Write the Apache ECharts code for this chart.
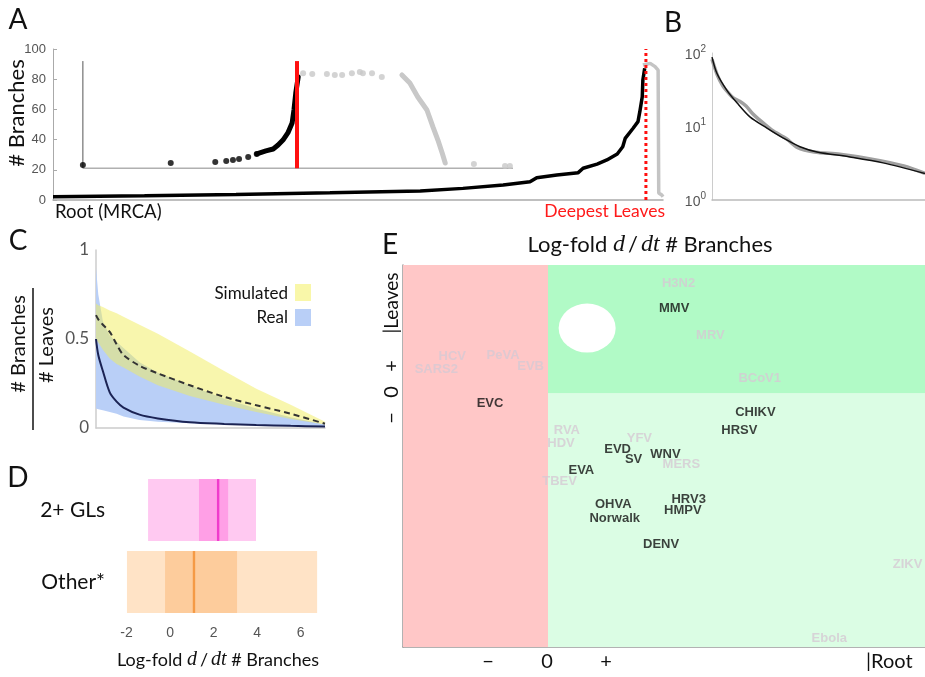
<!DOCTYPE html>
<html><head><meta charset="utf-8">
<script src="https://cdn.jsdelivr.net/npm/echarts@6/dist/echarts.min.js"></script>
<style>html,body{margin:0;padding:0;background:#fff}#c{width:925px;height:677px}</style>
</head><body><div id="c"></div>
<script>
// ---------- Panel A data (x: position root->leaves 0..100, y: # branches) ----------
const aMainX = [0, 15, 30, 45.4, 60.2, 67.2, 73.8, 78.2, 79.3, 82.6, 86.1, 86.9, 89.2, 90.8, 92.5, 93.4, 93.8, 95.1, 95.9, 96.2, 96.6, 96.7, 97.0];
const aMainY = [2.2, 2.8, 3.6, 4.8, 6, 7.7, 9.9, 12.1, 14.8, 16.6, 18.1, 21, 23.8, 26.5, 30.5, 35.3, 40.8, 47.5, 51.9, 58.5, 68.4, 79.5, 87.2];
const aTailX = [96.7, 97.9, 98.7, 99.2, 99.3, 99.8, 100];
const aTailY = [89.4, 90.5, 88.3, 86, 4.6, 3.3, 2.2];
const aInsetDotX = [4.9, 19.3, 26.6, 28.4, 29.5, 30.5, 32, 33.4];
const aInsetDotY = [23.2, 24.5, 25.2, 25.8, 26.5, 27.2, 28.5, 30.5];
const aInsetCurveX = [33.4, 34.9, 36.1, 36.9, 37.7, 38.5, 39.2, 39.5, 39.8, 40.2];
const aInsetCurveY = [30.5, 32.5, 33.8, 36.4, 39.7, 44.4, 51, 59.6, 70.9, 81.5];
const aGrayDotX = [41, 42.5, 44.9, 46.2, 47.4, 49, 50.3, 50.8, 52.3, 53.9, 69, 74.1, 74.9];
const aGrayDotY = [84, 83.4, 83.4, 82.8, 82.8, 84, 84.8, 84, 84, 81.5, 23.8, 22.5, 22.5];
const aGrayCurveX = [57.2, 58.5, 59.8, 61.3, 62.3, 63.1, 63.8, 64.3];
const aGrayCurveY = [82.8, 77.5, 68.2, 59.6, 48.3, 39.7, 31.1, 24.5];
const aRedSolid = {x: 40.0, y: [21, 92]};
const aRedDotted = {x: 97.2, y: [0, 100]};
const aInsetAxis = {x0: 4.9, x1: 75.4, y0: 21, y1: 92};

// ---------- Panel B data (log scale) ----------
const bBlackX = [0, 2.3, 7, 11.7, 17.8, 25.8, 33.3, 41.3, 49.3, 64.8, 80.3, 100];
const bBlackY = [88, 53, 31, 21, 13.5, 9.5, 7, 5.3, 4.5, 3.85, 3.2, 2.3];
const bGrayX = [0, 2.5, 5, 8, 10, 13, 16, 19, 22, 28, 35, 40, 48, 60, 75, 90, 100];
const bGrayY = [82, 50, 36, 28, 24.5, 22, 19, 15, 12.5, 9, 6.8, 5.2, 4.5, 4.2, 3.6, 2.9, 2.3];

// ---------- Panel C data ----------
const cX        = [0, 0.01, 0.03, 0.06, 0.09, 0.12, 0.19, 0.27, 0.41, 0.56, 0.70, 0.85, 1.0];
const cSimUpper = [0.70, 0.69, 0.68, 0.66, 0.645, 0.625, 0.58, 0.53, 0.43, 0.32, 0.22, 0.13, 0.035];
const cSimLower = [0.50, 0.48, 0.44, 0.39, 0.36, 0.34, 0.29, 0.24, 0.18, 0.13, 0.09, 0.05, 0.02];
const cSimMean  = [0.634, 0.61, 0.58, 0.54, 0.47, 0.41, 0.35, 0.307, 0.24, 0.175, 0.128, 0.08, 0.024];
const cRealUpper= [0.90, 0.75, 0.60, 0.52, 0.485, 0.45, 0.37, 0.31, 0.24, 0.165, 0.11, 0.06, 0.02];
const cRealLower= [0.11, 0.105, 0.10, 0.09, 0.08, 0.064, 0.045, 0.035, 0.026, 0.02, 0.015, 0.01, 0.008];
const cRealMean = [0.50, 0.41, 0.32, 0.20, 0.148, 0.115, 0.075, 0.054, 0.032, 0.023, 0.017, 0.012, 0.008];

// ---------- Panel D data ----------
const dCats = ['2+ GLs', 'Other*'];
const dOuterLo = [-1.01, -1.98];
const dOuterHi = [3.95, 6.76];
const dInnerLo = [1.33, -0.23];
const dInnerHi = [2.67, 3.08];
const dMedian  = [2.21, 1.10];
const dTicks = [-2, 0, 2, 4, 6];

// ---------- Panel E data ----------
const eBlackNames = ['MMV','EVC','CHIKV','HRSV','EVD','SV','WNV','EVA','OHVA','Norwalk','HRV3','HMPV','DENV'];
const eBlackX = [0.87, -0.40, 1.43, 1.32, 0.48, 0.59, 0.81, 0.23, 0.45, 0.46, 0.97, 0.93, 0.78];
const eBlackY = [0.66, -0.08, -0.15, -0.29, -0.43, -0.51, -0.47, -0.60, -0.86, -0.97, -0.82, -0.91, -1.17];
const eGrayNames = ['H3N2','MRV','BCoV1','HCV','PeVA','SARS2','EVB','RVA','HDV','YFV','MERS','TBEV','ZIKV','Ebola'];
const eGrayX = [0.90, 1.12, 1.46, -0.66, -0.31, -0.77, -0.12, 0.13, 0.09, 0.63, 0.92, 0.08, 2.48, 1.94];
const eGrayY = [0.86, 0.45, 0.12, 0.29, 0.30, 0.19, 0.21, -0.29, -0.39, -0.35, -0.55, -0.68, -1.33, -1.90];
const eHole = [0.27, 0.51];
const eXRange = [-1, 2.6], eYRange = [-1.97, 1];

// ---------- helpers ----------
const zip = (xs, ys) => xs.map((x, i) => [x, ys[i]]);
const FONT = 'Lato';
function T(text, x, y, size, o) {
  o = o || {};
  return {type: 'text', x: x, y: y, rotation: o.rot || 0, z: 100,
    style: {text: text, fontSize: size, fontFamily: o.family || FONT, fontWeight: o.weight || 'normal',
      fill: o.color || '#111', align: o.align || 'center', verticalAlign: 'middle',
      textAlign: o.align || 'center', textVerticalAlign: 'middle', rich: o.rich}};
}
const hidden = {axisLabel: {show: false}, axisTick: {show: false}, splitLine: {show: false}};

function bandSeries(lo, hi, fill) {
  return {type: 'custom', xAxisIndex: 2, yAxisIndex: 2, z: 2, encode: {x: 0, y: [1, 2]},
    data: cX.map((x, i) => [x, lo[i], hi[i]]),
    renderItem: (p, api) => {
      if (p.dataIndex !== 0) return null;
      const pts = [];
      for (let i = 0; i < cX.length; i++) pts.push(api.coord([cX[i], hi[i]]));
      for (let i = cX.length - 1; i >= 0; i--) pts.push(api.coord([cX[i], lo[i]]));
      return {type: 'polygon', shape: {points: pts}, style: {fill: fill}};
    }};
}

const chart = echarts.init(document.getElementById('c'), null, {renderer: 'canvas'});

function mathRich(n, i) {
  return {
    n: {fontFamily: FONT, fontSize: n, color: '#111'},
    s: {fontFamily: FONT, fontSize: n, color: '#111', padding: [0, 3, 0, 3]},
    i: {fontFamily: 'Liberation Serif', fontStyle: 'italic', fontSize: i, color: '#111'}
  };
}
const mathTitle = '{n|Log-fold }{i|d}{s|/}{i|dt}{n| # Branches}';

const option = {
  animation: false,
  grid: [
    {left: 53, top: 49, width: 610, height: 151},
    {left: 712, top: 53, width: 213, height: 147},
    {left: 96, top: 250, width: 229, height: 178},
    {left: 110, top: 474, width: 218, height: 144},
    {left: 403, top: 265, width: 522, height: 382}
  ],
  xAxis: [
    Object.assign({type: 'value', gridIndex: 0, min: 0, max: 100,
      axisLine: {lineStyle: {color: '#aaa', width: 1.5}}}, hidden),
    Object.assign({type: 'value', gridIndex: 1, min: 0, max: 100,
      axisLine: {lineStyle: {color: '#bbb', width: 1.5}}}, hidden),
    Object.assign({type: 'value', gridIndex: 2, min: 0, max: 1,
      axisLine: {lineStyle: {color: '#ccc', width: 1.5}}}, hidden),
    {type: 'value', gridIndex: 3, min: -2.76, max: 7.26,
      axisLine: {lineStyle: {color: '#aaa', width: 1.5}},
      axisTick: {show: false}, splitLine: {show: false},
      axisLabel: {customValues: dTicks, fontSize: 14, color: '#555', fontFamily: 'Liberation Sans', margin: 8}},
    Object.assign({type: 'value', gridIndex: 4, min: eXRange[0], max: eXRange[1],
      axisLine: {onZero: false, lineStyle: {color: '#999', width: 1.5}}}, hidden)
  ],
  yAxis: [
    {type: 'value', gridIndex: 0, min: 0, max: 100, interval: 20,
      axisLine: {show: true, lineStyle: {color: '#aaa', width: 1}},
      axisTick: {show: true, inside: true, length: 4, lineStyle: {color: '#aaa'}},
      splitLine: {show: false},
      axisLabel: {fontSize: 13, color: '#555', fontFamily: 'Liberation Sans', margin: 7}},
    {type: 'log', gridIndex: 1, min: 1, max: 100, logBase: 10,
      axisLine: {show: true, lineStyle: {color: '#ccc', width: 1}},
      axisTick: {show: false}, splitLine: {show: false},
      axisLabel: {margin: 6, formatter: v => '{b|10}{s|' + Math.round(Math.log10(v)) + '}',
        rich: {b: {fontSize: 14, color: '#555', fontFamily: 'Liberation Sans', lineHeight: 18, verticalAlign: 'bottom'},
               s: {fontSize: 10, color: '#555', fontFamily: 'Liberation Sans', lineHeight: 18, verticalAlign: 'top'}}}},
    {type: 'value', gridIndex: 2, min: 0, max: 1, interval: 0.5,
      axisLine: {show: true, lineStyle: {color: '#ccc', width: 1.5}},
      axisTick: {show: false}, splitLine: {show: false},
      axisLabel: {fontSize: 17, color: '#555', fontFamily: FONT, margin: 7}},
    {type: 'category', gridIndex: 3, data: dCats, inverse: true,
      axisLine: {show: false}, axisTick: {show: false},
      axisLabel: {fontSize: 21, color: '#111', fontFamily: FONT, margin: 5}},
    Object.assign({type: 'value', gridIndex: 4, min: eYRange[0], max: eYRange[1],
      axisLine: {show: true, onZero: false, lineStyle: {color: '#999', width: 1.5}}}, hidden)
  ],
  series: [
    // ----- Panel A -----
    {type: 'line', xAxisIndex: 0, yAxisIndex: 0, symbol: 'none', z: 2,
      data: [[aInsetAxis.x0, aInsetAxis.y0], [aInsetAxis.x1, aInsetAxis.y0]],
      lineStyle: {color: '#b0b0b0', width: 1.5}},
    {type: 'line', xAxisIndex: 0, yAxisIndex: 0, symbol: 'none', z: 2,
      data: [[aInsetAxis.x0, aInsetAxis.y0], [aInsetAxis.x0, aInsetAxis.y1]],
      lineStyle: {color: '#555', width: 1}},
    {type: 'scatter', xAxisIndex: 0, yAxisIndex: 0, symbolSize: 6, z: 3,
      data: zip(aGrayDotX, aGrayDotY), itemStyle: {color: '#c8c8c8'}},
    {type: 'line', xAxisIndex: 0, yAxisIndex: 0, symbol: 'none', z: 3,
      data: zip(aGrayCurveX, aGrayCurveY), lineStyle: {color: '#c8c8c8', width: 5, cap: 'round'}},
    {type: 'line', xAxisIndex: 0, yAxisIndex: 0, symbol: 'none', z: 3,
      data: zip(aTailX, aTailY), lineStyle: {color: '#c4c4c4', width: 3.5}},
    {type: 'scatter', xAxisIndex: 0, yAxisIndex: 0, symbolSize: 6, z: 4,
      data: zip(aInsetDotX, aInsetDotY), itemStyle: {color: '#000'}},
    {type: 'line', xAxisIndex: 0, yAxisIndex: 0, symbol: 'none', z: 4,
      data: zip(aInsetCurveX, aInsetCurveY), lineStyle: {color: '#000', width: 5, cap: 'round'}},
    {type: 'line', xAxisIndex: 0, yAxisIndex: 0, symbol: 'none', z: 4,
      data: zip(aMainX, aMainY), lineStyle: {color: '#000', width: 3.5}},
    {type: 'line', xAxisIndex: 0, yAxisIndex: 0, symbol: 'none', z: 5,
      data: [[aRedSolid.x, aRedSolid.y[0]], [aRedSolid.x, aRedSolid.y[1]]],
      lineStyle: {color: '#ff1010', width: 4}},
    {type: 'line', xAxisIndex: 0, yAxisIndex: 0, symbol: 'none', z: 5,
      data: [[aRedDotted.x, aRedDotted.y[0]], [aRedDotted.x, aRedDotted.y[1]]],
      lineStyle: {color: '#ff1010', width: 3, type: [3, 3]}},
    // ----- Panel B -----
    {type: 'line', xAxisIndex: 1, yAxisIndex: 1, symbol: 'none', smooth: 0.3,
      data: zip(bGrayX, bGrayY), lineStyle: {color: '#a0a0a0', width: 3.5}},
    {type: 'line', xAxisIndex: 1, yAxisIndex: 1, symbol: 'none', smooth: 0.3,
      data: zip(bBlackX, bBlackY), lineStyle: {color: '#111', width: 1.5}},
    // ----- Panel C -----
    bandSeries(cRealLower, cRealUpper, '#b9cff7'),
    bandSeries(cSimLower, cSimUpper, 'rgba(242,238,92,0.5)'),
    {type: 'line', xAxisIndex: 2, yAxisIndex: 2, symbol: 'none', smooth: 0.3, z: 4,
      data: zip(cX, cSimMean), lineStyle: {color: '#333', width: 2, type: [6, 4]}},
    {type: 'line', xAxisIndex: 2, yAxisIndex: 2, symbol: 'none', smooth: 0.3, z: 4,
      data: zip(cX, cRealMean), lineStyle: {color: '#1b2354', width: 2}},
    // ----- Panel D -----
    {type: 'custom', xAxisIndex: 3, yAxisIndex: 3, encode: {y: 0, x: [1, 2]},
      data: dCats.map((c, i) => [i, dOuterLo[i], dOuterHi[i]]),
      renderItem: (p, api) => {
        const a = api.coord([api.value(1), api.value(0)]), b = api.coord([api.value(2), api.value(0)]);
        const h = api.size([0, 1])[1] * 0.86;
        return {type: 'rect', shape: {x: a[0], y: a[1] - h / 2, width: b[0] - a[0], height: h},
          style: {fill: api.value(0) === 0 ? '#ffc9f1' : '#ffe3c6'}};
      }},
    {type: 'custom', xAxisIndex: 3, yAxisIndex: 3, encode: {y: 0, x: [1, 2]},
      data: dCats.map((c, i) => [i, dInnerLo[i], dInnerHi[i]]),
      renderItem: (p, api) => {
        const a = api.coord([api.value(1), api.value(0)]), b = api.coord([api.value(2), api.value(0)]);
        const h = api.size([0, 1])[1] * 0.86;
        return {type: 'rect', shape: {x: a[0], y: a[1] - h / 2, width: b[0] - a[0], height: h},
          style: {fill: api.value(0) === 0 ? '#ff9fe6' : '#fdcc9c'}};
      }},
    {type: 'custom', xAxisIndex: 3, yAxisIndex: 3, encode: {y: 0, x: 1},
      data: dCats.map((c, i) => [i, dMedian[i]]),
      renderItem: (p, api) => {
        const a = api.coord([api.value(1), api.value(0)]);
        const h = api.size([0, 1])[1] * 0.86;
        return {type: 'rect', shape: {x: a[0] - 1.2, y: a[1] - h / 2, width: 2.4, height: h},
          style: {fill: api.value(0) === 0 ? '#f03ccc' : '#f59a45'}};
      }},
    // ----- Panel E -----
    {type: 'line', xAxisIndex: 4, yAxisIndex: 4, data: [], z: 1,
      markArea: {silent: true, data: [
        [{xAxis: eXRange[0], yAxis: eYRange[0], itemStyle: {color: '#ffc7c7'}}, {xAxis: 0, yAxis: eYRange[1]}],
        [{xAxis: 0, yAxis: 0, itemStyle: {color: '#b1fac6'}}, {xAxis: eXRange[1], yAxis: eYRange[1]}],
        [{xAxis: 0, yAxis: eYRange[0], itemStyle: {color: '#dbfde4'}}, {xAxis: eXRange[1], yAxis: 0}]
      ]}},
    {type: 'scatter', xAxisIndex: 4, yAxisIndex: 4, z: 2, symbol: 'circle', symbolSize: [57, 49],
      data: [eHole], itemStyle: {color: '#fff', opacity: 1}},
    {type: 'scatter', xAxisIndex: 4, yAxisIndex: 4, z: 3, symbolSize: 0,
      data: eGrayNames.map((n, i) => ({name: n, value: [eGrayX[i], eGrayY[i]]})),
      label: {show: true, position: 'inside', formatter: p => p.name, color: '#d6c9d3',
        fontFamily: 'Liberation Sans', fontWeight: 'bold', fontSize: 13}},
    {type: 'scatter', xAxisIndex: 4, yAxisIndex: 4, z: 3, symbolSize: 0,
      data: eBlackNames.map((n, i) => ({name: n, value: [eBlackX[i], eBlackY[i]]})),
      label: {show: true, position: 'inside', formatter: p => p.name, color: '#111',
        fontFamily: 'Liberation Sans', fontWeight: 'bold', fontSize: 13}}
  ],
  graphic: [
    T('A', 18, 20, 28), T('B', 673, 23, 28), T('C', 18, 241, 28), T('D', 18, 478, 28), T('E', 390, 245, 28),
    // Panel A
    T('# Branches', 17, 113, 22, {rot: Math.PI / 2}),
    T('Root (MRCA)', 55, 212, 18.5, {align: 'left'}),
    T('Deepest Leaves', 665, 211, 17.5, {align: 'right', color: '#ff1a1a'}),
    // Panel C
    T('# Branches', 19, 344, 20, {rot: Math.PI / 2}),
    T('# Leaves', 47, 345, 20, {rot: Math.PI / 2}),
    {type: 'line', z: 100, shape: {x1: 33, y1: 288, x2: 33, y2: 430}, style: {stroke: '#111', lineWidth: 1.5}},
    T('Simulated', 288, 294, 17, {align: 'right'}),
    T('Real', 288, 318, 17, {align: 'right'}),
    {type: 'rect', z: 100, shape: {x: 295, y: 284, width: 16, height: 17}, style: {fill: '#f9f7a9'}},
    {type: 'rect', z: 100, shape: {x: 295, y: 309, width: 16, height: 17}, style: {fill: '#b9cff7'}},
    // Panel D
    T(mathTitle, 218, 660, 18, {rich: mathRich(18, 20)}),
    // Panel E
    T(mathTitle, 650, 245, 22, {rich: mathRich(22, 24)}),
    T('|Leaves', 392, 303, 19, {rot: Math.PI / 2}),
    T('+', 392, 366, 20, {rot: Math.PI / 2}),
    T('0', 392, 392, 20, {rot: Math.PI / 2}),
    T('\u2212', 392, 418, 20, {rot: Math.PI / 2}),
    T('\u2212', 488, 662, 20),
    T('0', 547, 662, 20),
    T('+', 606, 662, 20),
    T('|Root', 866, 662, 20, {align: 'left'})
  ]
};
chart.setOption(option);
</script>
</body></html>
